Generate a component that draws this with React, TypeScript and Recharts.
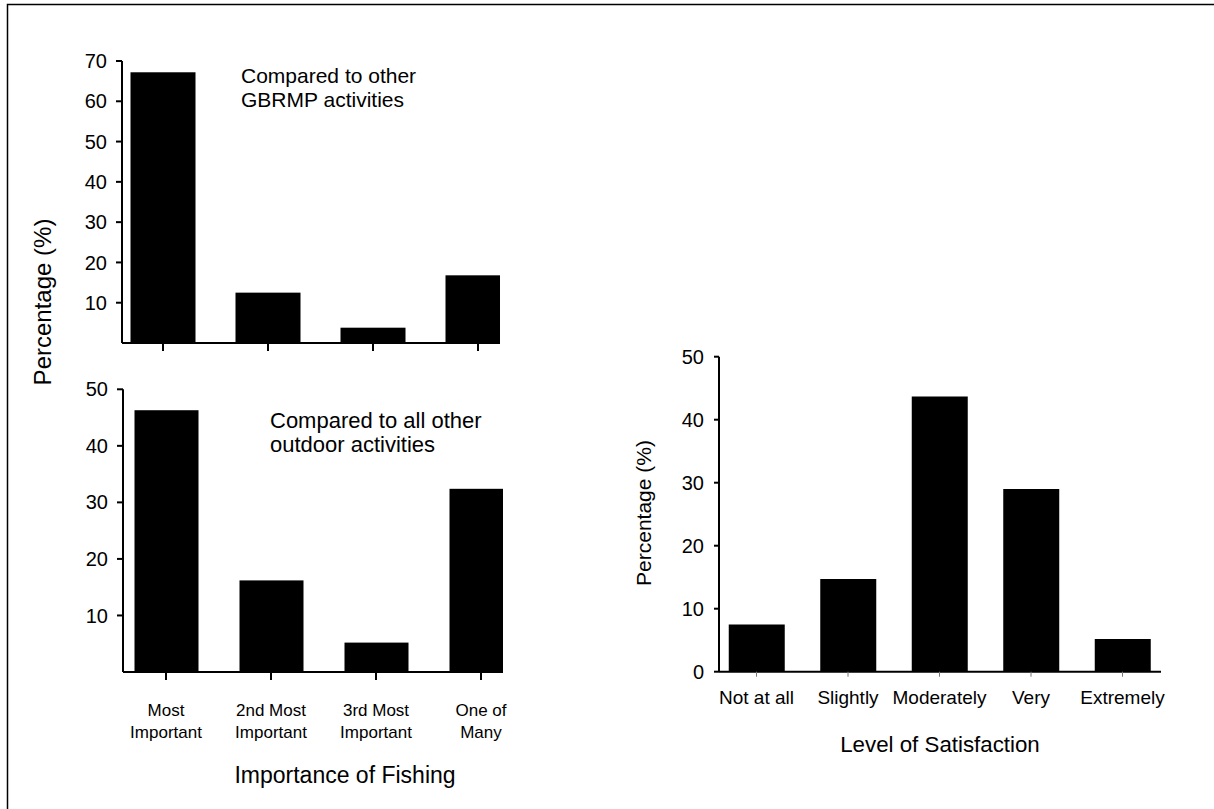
import React from "react";
import { BarChart, Bar, XAxis, YAxis } from "recharts";

/* Importance of fishing (two stacked panels) */
const fishingCats = ["Most\nImportant", "2nd Most\nImportant", "3rd Most\nImportant", "One of\nMany"];
const gbrmpPct = [67.2, 12.5, 3.8, 16.8];
const outdoorPct = [46.3, 16.2, 5.2, 32.4];
const gbrmpTicks = [10, 20, 30, 40, 50, 60, 70];
const outdoorTicks = [10, 20, 30, 40, 50];

/* Level of satisfaction */
const satisfactionCats = ["Not at all", "Slightly", "Moderately", "Very", "Extremely"];
const satisfactionPct = [7.5, 14.7, 43.7, 29.0, 5.2];
const satisfactionTicks = [0, 10, 20, 30, 40, 50];

const W = 1214;
const H = 809;
const FONT = '"Liberation Sans", Arial, Helvetica, sans-serif';

// right edge of the two left plot areas (the last bar is cut off there)
const TOP_RIGHT = 500;
const BOT_RIGHT = 503;

const gbrmpData = fishingCats.map((name, i) => ({ name, value: gbrmpPct[i] }));
const outdoorData = fishingCats.map((name, i) => ({ name, value: outdoorPct[i] }));
const satisfactionData = satisfactionCats.map((name, i) => ({ name, value: satisfactionPct[i] }));

const layer: React.CSSProperties = { position: "absolute", left: 0, top: 0 };
const thick = { stroke: "#000", strokeWidth: 2 };

// bar cut at the plot's right edge, like the original
const cutBar = (right: number) => (p: any) => {
  const w = Math.max(0, Math.min(p.x + p.width, right) - p.x);
  return <rect x={p.x} y={p.y} width={w} height={p.height} fill="#000" />;
};

function TwoLineTick({ x, y, payload }: any) {
  const lines = String(payload.value).split("\n");
  return (
    <text x={x} y={y} textAnchor="middle" fill="#000" fontSize={17} fontFamily={FONT}>
      {lines.map((l, i) => (
        <tspan key={i} x={x} dy={i === 0 ? 34 : 21.7}>
          {l}
        </tspan>
      ))}
    </text>
  );
}

export default function App() {
  return (
    <div style={{ position: "absolute", left: 0, top: 0, width: W, height: H, background: "#fff" }}>
      {/* top-left: compared to other GBRMP activities */}
      <div style={layer}>
        <BarChart width={W} height={H} data={gbrmpData} barSize={65}
          margin={{ top: 61, right: W - TOP_RIGHT, bottom: 436, left: 62 }}>
          <XAxis dataKey="name" height={30} interval={0}
            padding={{ left: -11.5, right: -30.5 }}
            axisLine={thick} tickLine={thick} tickSize={8} tick={() => <g />} />
          <YAxis domain={[0, 70]} ticks={gbrmpTicks} interval={0} width={60}
            axisLine={thick} tickLine={thick} tickSize={6} tickMargin={9}
            tick={{ fill: "#000", fontSize: 20, fontFamily: FONT }} />
          <Bar dataKey="value" fill="#000" shape={cutBar(TOP_RIGHT)} isAnimationActive={false} />
        </BarChart>
      </div>

      {/* bottom-left: compared to all other outdoor activities */}
      <div style={layer}>
        <BarChart width={W} height={H} data={outdoorData} barSize={64}
          margin={{ top: 389.3, right: W - BOT_RIGHT, bottom: 57, left: 63 }}>
          <XAxis dataKey="name" height={80} interval={0}
            padding={{ left: -9.5, right: -30.5 }}
            axisLine={thick} tickLine={thick} tickSize={8} tickMargin={2}
            tick={<TwoLineTick />} />
          <YAxis domain={[0, 50]} ticks={outdoorTicks} interval={0} width={60}
            axisLine={thick} tickLine={thick} tickSize={6} tickMargin={9}
            tick={{ fill: "#000", fontSize: 20, fontFamily: FONT }} />
          <Bar dataKey="value" fill="#000" shape={cutBar(BOT_RIGHT)} isAnimationActive={false} />
        </BarChart>
      </div>

      {/* right: level of satisfaction */}
      <div style={layer}>
        <BarChart width={W} height={H} data={satisfactionData} barSize={56}
          margin={{ top: 356.7, right: 53, bottom: 97.3, left: 659 }}>
          <XAxis dataKey="name" height={40} interval={0}
            padding={{ left: -8.25, right: -7.25 }}
            axisLine={thick} tickLine={{ stroke: "#777", strokeWidth: 1 }} tickSize={5} tickMargin={14}
            tick={{ fill: "#000", fontSize: 19, fontFamily: FONT }} />
          <YAxis domain={[0, 50]} ticks={satisfactionTicks} interval={0} width={60}
            axisLine={thick} tickLine={thick} tickSize={5} tickMargin={10}
            tick={{ fill: "#000", fontSize: 20, fontFamily: FONT }} />
          <Bar dataKey="value" fill="#000" isAnimationActive={false} />
        </BarChart>
      </div>

      {/* frame, titles, notes */}
      <svg width={W} height={H} style={{ ...layer, pointerEvents: "none" }} fontFamily={FONT} fill="#000">
        <path d={`M7.5 ${H} L7.5 4.5 L${W} 4.5`} fill="none" stroke="#000" strokeWidth={1.5} />
        <text x={42} y={302} transform="rotate(-90 42 302)" textAnchor="middle" dominantBaseline="central" fontSize={24}>
          Percentage (%)
        </text>
        <text x={241} y={83.3} fontSize={21}>Compared to other</text>
        <text x={241} y={106.7} fontSize={21}>GBRMP activities</text>
        <text x={270} y={428.3} fontSize={22}>Compared to all other</text>
        <text x={270} y={451.7} fontSize={22}>outdoor activities</text>
        <text x={345} y={783.3} textAnchor="middle" fontSize={23}>Importance of Fishing</text>
        <text x={643.3} y={513} transform="rotate(-90 643.3 513)" textAnchor="middle" dominantBaseline="central" fontSize={21}>
          Percentage (%)
        </text>
        <text x={940} y={751.7} textAnchor="middle" fontSize={22.3}>Level of Satisfaction</text>
      </svg>
    </div>
  );
}
